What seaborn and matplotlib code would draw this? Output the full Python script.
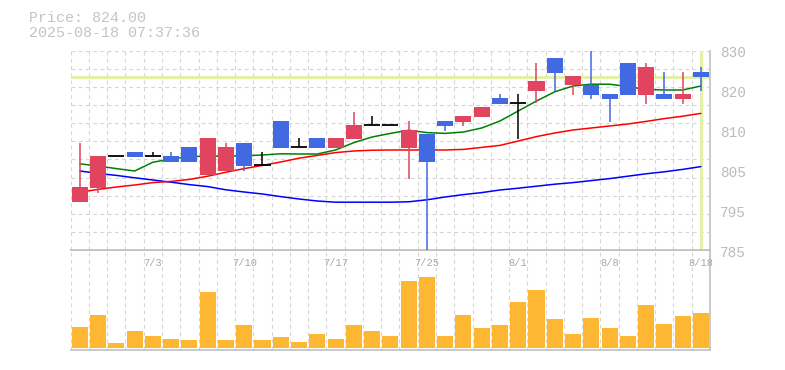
import numpy as np
import pandas as pd
import matplotlib
matplotlib.use("Agg")
import matplotlib.pyplot as plt
from matplotlib.transforms import blended_transform_factory
import seaborn as sns

# ---------------- data ----------------
dates = ["6/27", "6/30", "7/1", "7/2", "7/3", "7/4", "7/7", "7/8", "7/9", "7/10",
         "7/11", "7/14", "7/15", "7/16", "7/17", "7/18", "7/22", "7/23", "7/24", "7/25",
         "7/28", "7/29", "7/30", "7/31", "8/1", "8/4", "8/5", "8/6", "8/7", "8/8",
         "8/12", "8/13", "8/14", "8/15", "8/18"]

opens = [792.75, 796.3, 804.2, 805.25, 804.2, 804.25, 806.5, 799.6, 800.6, 807.5,
         801.9, 813.0, 806.4, 808.75, 806.3, 808.5, 811.9, 811.9, 806.3, 809.75,
         813.0, 812.75, 814.0, 818.75, 817.5, 820.5, 828.75, 822.0, 822.0, 819.75,
         827.5, 819.5, 819.75, 818.5, 825.25]
highs = [807.5, 804.25, 804.2, 805.25, 805.3, 805.25, 806.5, 808.75, 807.5, 807.5,
         805.2, 813.0, 808.7, 808.75, 808.75, 815.25, 814.2, 811.9, 813.0, 809.75,
         813.0, 814.25, 816.5, 819.75, 819.75, 827.5, 828.75, 824.25, 831.0, 819.75,
         827.5, 827.5, 825.25, 825.25, 826.5]
lows = [792.75, 795.1, 804.2, 804.1, 804.2, 802.8, 802.8, 799.6, 800.6, 800.6,
        801.9, 806.3, 806.4, 806.3, 806.3, 808.5, 811.9, 811.9, 798.6, 780.0,
        810.6, 811.75, 814.0, 817.25, 808.5, 817.5, 820.5, 819.5, 818.5, 812.75,
        819.5, 817.25, 818.5, 817.25, 820.5]
closes = [796.5, 804.25, 804.2, 804.1, 804.2, 802.8, 802.8, 808.75, 806.5, 801.8,
          801.9, 806.3, 806.4, 806.3, 808.75, 812.0, 811.9, 811.9, 810.75, 802.75,
          811.75, 814.25, 816.5, 817.25, 817.5, 823.0, 825.0, 824.25, 819.5, 818.5,
          819.5, 826.5, 818.5, 819.75, 824.0]

ma_short = [802.3, 801.75, 801.1, 800.5, 802.7, 803.5, 804.1, 804.2, 804.2, 804.3,
            804.5, 804.8, 804.75, 804.75, 805.75, 807.6, 809.0, 809.9, 810.7, 810.1,
            809.9, 810.25, 811.25, 813.0, 815.5, 818.0, 820.3, 821.75, 822.2, 822.2,
            821.6, 820.9, 820.75, 820.75, 821.75]
ma_mid = [795.2, 795.9, 796.5, 797.0, 797.6, 797.9, 798.4, 799.2, 800.2, 801.1,
          801.9, 802.75, 803.7, 804.4, 805.1, 805.5, 805.7, 805.75, 805.75, 805.75,
          805.75, 805.9, 806.4, 806.9, 808.0, 809.1, 810.0, 810.75, 811.25, 811.75,
          812.25, 812.9, 813.6, 814.2, 814.9]
ma_long = [800.5, 799.9, 799.4, 798.8, 798.25, 797.7, 797.1, 796.6, 795.8, 795.25,
           794.75, 794.1, 793.5, 793.0, 792.7, 792.7, 792.7, 792.7, 792.8, 793.3,
           794.0, 794.6, 795.1, 795.75, 796.2, 796.7, 797.2, 797.6, 798.1, 798.6,
           799.2, 799.8, 800.3, 800.9, 801.6]

volume_k = [20.7, 32.7, 4.7, 16.7, 11.7, 8.7, 7.7, 55.7, 7.7, 22.7,
            7.7, 10.7, 5.7, 13.7, 8.7, 22.7, 16.7, 11.7, 66.7, 70.7,
            11.7, 32.7, 19.7, 22.7, 45.7, 57.7, 28.7, 13.7, 29.7, 19.7,
            11.7, 42.7, 23.7, 31.7, 34.7]

last_price = 824.00
timestamp = "2025-08-18 07:37:36"
price_ticks = [830, 820, 810, 800, 790, 780]
price_tick_labels = ["830", "820", "810", "805", "795", "785"]
date_ticks = ["7/3", "7/10", "7/17", "7/25", "8/1", "8/8", "8/18"]

# ---------------- style ----------------
sns.set_style("white")
plt.rcParams['font.family'] = ['Liberation Mono', 'DejaVu Sans Mono']

UP = "#e0445f"
DOWN = "#4169e1"
GRID = "#d6d6d6"
FRAME = "#c0c0c0"
CUR = "#e3f0a8"
VOL = "#fdb733"

W, H = 785, 370
fig = plt.figure(figsize=(W / 100, H / 100), dpi=100)
L, R = 70.7, 710.0
ax = fig.add_axes([L / W, 1 - 250 / H, (R - L) / W, (250 - 50.7) / H])
axv = fig.add_axes([L / W, 1 - 350 / H, (R - L) / W, 100 / H])
ax.set_zorder(3)

n = len(dates)
x = np.arange(n)
o = np.array(opens); h = np.array(highs); lo = np.array(lows); c = np.array(closes)

# ---------------- price panel ----------------
ax.axhline(last_price, color=CUR, lw=2.2, zorder=1.5)
ax.axvline(x[-1], color=CUR, lw=2.2, zorder=1.5)

sns.lineplot(x=x, y=ma_long, ax=ax, color="#0000ff", lw=1.1, zorder=2)
sns.lineplot(x=x, y=ma_mid, ax=ax, color="#ff0000", lw=1.1, zorder=2)
sns.lineplot(x=x, y=ma_short, ax=ax, color="#008000", lw=1.1, zorder=2)

cols = np.where(c > o, UP, np.where(c < o, DOWN, "black"))
ax.vlines(x, lo, h, colors=cols, lw=1.1, zorder=4)
body = c != o
ax.bar(x[body], np.abs(c - o)[body], bottom=np.minimum(o, c)[body], width=0.88,
       color=cols[body], zorder=5, linewidth=0)
doji = ~body
ax.hlines(c[doji], x[doji] - 0.44, x[doji] + 0.44, colors="black", lw=1.3, zorder=5)

ax.set_xlim(-0.5, n - 0.5)
ax.set_ylim(780.75, 830.575)
ax.set_xlabel(""); ax.set_ylabel("")
ax.set_yticks([])
ax.set_yticks(np.linspace(780.75, 830.575, 12), minor=True)
ax.set_xticks(np.arange(-0.5, n, 1.0), minor=True)
ax.set_xticks([dates.index(d) for d in date_ticks], date_ticks)
ax.tick_params(axis="x", which="major", length=0, pad=5.5, labelsize=7.5, labelcolor="#a8a8a8")
ax.tick_params(which="minor", length=0)
ax.grid(False)
ax.grid(which="minor", color=GRID, lw=0.8, linestyle=(0, (3.5, 3)))
ax.set_axisbelow(True)
for s in ["top", "left"]:
    ax.spines[s].set_visible(False)
for s in ["bottom", "right"]:
    ax.spines[s].set_color(FRAME)
    ax.spines[s].set_linewidth(1.2)

trans = blended_transform_factory(ax.transAxes, ax.transData)
for v, lab in zip(price_ticks, price_tick_labels):
    ax.text(1.0153, v, lab, transform=trans, va="center", ha="left",
            fontsize=10.4, color="#bbbbbb", clip_on=False)

# ---------------- volume panel ----------------
dfv = pd.DataFrame({"date": dates, "vol": volume_k})
sns.barplot(data=dfv, x="date", y="vol", ax=axv, color=VOL, saturation=1,
            width=0.88, linewidth=0, zorder=3)
axv.set_xlim(-0.5, n - 0.5)
axv.set_ylim(-2.3, 97.7)
axv.set_xlabel(""); axv.set_ylabel("")
axv.set_yticks([])
axv.set_xticks([])
axv.set_xticks(np.arange(-0.5, n, 1.0), minor=True)
axv.tick_params(which="both", length=0)
axv.grid(False)
axv.grid(which="minor", axis="x", color=GRID, lw=0.8, linestyle=(0, (3.5, 3)))
axv.set_axisbelow(True)
axv.spines["left"].set_visible(False)
for s in ["top", "bottom", "right"]:
    axv.spines[s].set_color(FRAME)
    axv.spines[s].set_linewidth(1.2)

# ---------------- header text ----------------
fig.text(29 / W, 1 - 11 / H, f"Price: {last_price:.2f}", ha="left", va="top",
         fontsize=10.8, color="#c4c4c4")
fig.text(29 / W, 1 - 26 / H, timestamp, ha="left", va="top",
         fontsize=10.8, color="#c4c4c4")

fig.savefig("out.png", dpi=100)
